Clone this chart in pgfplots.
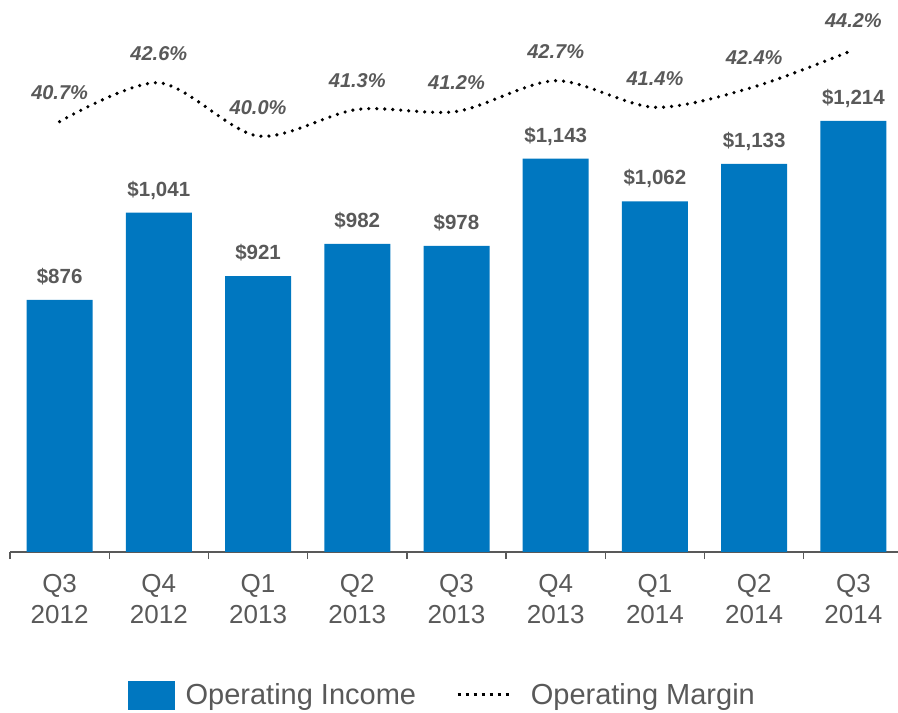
\documentclass[border=0pt]{standalone}
\usepackage{fontspec}
\setmainfont{Liberation Sans}
\usepackage{pgfplots}
\usepackage{pgfplotstable}
\pgfplotsset{compat=1.18}

\definecolor{barblue}{HTML}{0077C0}
\definecolor{txtgray}{HTML}{595959}

% quarter index, operating income ($M), operating margin (%)
\pgfplotstableread{
idx income margin
0  876  40.7
1  1041 42.6
2  921  40.0
3  982  41.3
4  978  41.2
5  1143 42.7
6  1062 41.4
7  1133 42.4
8  1214 44.2
}\opdata

\begin{document}
\begin{tikzpicture}[x=1pt,y=1pt]
% bars: operating income
\begin{axis}[
  at={(10pt,161pt)}, anchor=south west,
  scale only axis, width=893pt, height=552pt,
  xmin=-0.5, xmax=8.5, ymin=400, ymax=1442.3,
  axis x line*=bottom, axis y line=none,
  x axis line style={-, draw=txtgray, line width=1.6pt},
  xtick={0,...,8},
  xticklabels={{Q3\\2012},{Q4\\2012},{Q1\\2013},{Q2\\2013},{Q3\\2013},{Q4\\2013},{Q1\\2014},{Q2\\2014},{Q3\\2014}},
  major tick length=0pt,
  extra x ticks={-0.5,0.5,1.5,2.5,3.5,4.5,5.5,6.5,7.5},
  extra x tick labels={},
  extra x tick style={tick align=outside, major tick length=7pt,
    tick style={draw=txtgray, line width=1.4pt}},
  xticklabel style={align=center, anchor=north, yshift=-19pt,
    font=\fontsize{26}{31}\selectfont, text=txtgray},
  clip=false,
  /pgf/number format/assume math mode=true,
  /pgf/number format/1000 sep={,},
]
\addplot[ybar, bar width=66pt, fill=barblue, draw=none,
  point meta=y,
  nodes near coords={\$\pgfmathprintnumber[fixed,precision=0]{\pgfplotspointmeta}},
  nodes near coords style={anchor=base, inner sep=0pt, yshift=16.5pt,
    font=\fontsize{20.5}{24}\selectfont\bfseries, text=txtgray},
] table[x=idx, y=income] {\opdata};
\end{axis}

% dotted line: operating margin
\begin{axis}[
  at={(10pt,161pt)}, anchor=south west,
  scale only axis, width=893pt, height=552pt,
  xmin=-0.5, xmax=8.5, ymin=19.69, ymax=46.64,
  hide axis, clip=false,
  /pgf/number format/assume math mode=true,
  legend columns=2,
  legend style={at={(0.1288,-0.259)}, anchor=west, draw=none, fill=none,
    font=\fontsize{29}{35}\selectfont, text=txtgray,
    /tikz/every even column/.append style={column sep=38pt}},
]
\addlegendimage{legend image code/.code={
  \fill[barblue] (0pt,-14pt) rectangle (46pt,14pt);
  \path (55pt,0pt);}}
\addlegendentry{Operating Income}
\addlegendimage{legend image code/.code={
  \draw[black, line width=3pt, dash pattern=on 3pt off 5pt] (0pt,0pt) -- (55pt,0pt);
  \path (71pt,0pt);}}
\addlegendentry{Operating Margin}
\addplot[forget plot, smooth, black, line width=3.6pt, line cap=round,
  dash pattern=on 0pt off 8pt,
  point meta=y,
  nodes near coords={\pgfmathprintnumber[fixed,fixed zerofill,precision=1]{\pgfplotspointmeta}\%},
  nodes near coords style={anchor=base, inner sep=0pt, yshift=22pt, solid,
    font=\fontsize{20}{24}\selectfont\bfseries\itshape, text=txtgray},
] table[x=idx, y=margin] {\opdata};
\end{axis}

\pgfresetboundingbox
\useasboundingbox (0,0) rectangle (898,713);
\end{tikzpicture}
\end{document}
